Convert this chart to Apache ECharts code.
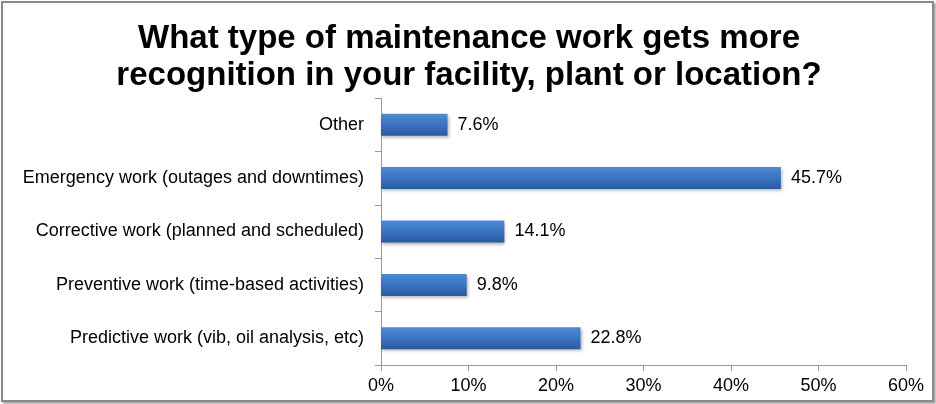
<!DOCTYPE html>
<html><head><meta charset="utf-8">
<script src="https://cdn.jsdelivr.net/npm/echarts@6/dist/echarts.min.js"></script>
<style>
html,body{margin:0;padding:0;background:#fff;}
#frame{position:absolute;left:1px;top:1px;width:929px;height:397px;border:2px solid #8a8a8a;box-shadow:2px 2px 2px rgba(0,0,0,0.35);background:#fff;}
#chart{position:absolute;left:0;top:0;width:936px;height:404px;}
</style></head>
<body>
<div id="frame"></div>
<div id="chart"></div>
<script>
var categories = [
  "Predictive work (vib, oil analysis, etc)",
  "Preventive work (time-based activities)",
  "Corrective work (planned and scheduled)",
  "Emergency work (outages and downtimes)",
  "Other"
];
var values = [22.8, 9.8, 14.1, 45.7, 7.6];
var titleLines = ["What type of maintenance work gets more", "recognition in your facility, plant or location?"];

var chart = echarts.init(document.getElementById('chart'), null, {renderer:'canvas'});
chart.setOption({
  backgroundColor: 'transparent',
  animation: false,
  title: {
    text: titleLines.join('\n'),
    left: 464, top: 15, textAlign: 'center',
    textStyle: {fontFamily: 'Liberation Sans', fontWeight: 'bold', fontSize: 33, color: '#000', lineHeight: 37}
  },
  grid: {left: 381, right: 30, top: 98, bottom: 39, containLabel: false},
  xAxis: {
    type: 'value', min: 0, max: 60, interval: 10,
    axisLabel: {formatter: '{value}%', fontFamily: 'Liberation Sans', fontSize: 18, color: '#000', margin: 12},
    axisLine: {show: true, lineStyle: {color: '#999', width: 1}},
    axisTick: {show: true, length: 6, lineStyle: {color: '#999'}},
    splitLine: {show: false}
  },
  yAxis: {
    type: 'category', data: categories,
    axisLabel: {fontFamily: 'Liberation Sans', fontSize: 18, color: '#000', margin: 17},
    axisLine: {show: true, lineStyle: {color: '#999', width: 1}},
    axisTick: {show: true, length: 6, lineStyle: {color: '#999'}}
  },
  series: [{
    type: 'bar', data: values, barWidth: 22,
    itemStyle: {
      color: new echarts.graphic.LinearGradient(0, 0, 0, 1, [
        {offset: 0, color: '#4f8ad4'},
        {offset: 0.5, color: '#3a74c2'},
        {offset: 1, color: '#2b5a9e'}
      ]),
      shadowColor: 'rgba(0,0,0,0.3)', shadowBlur: 3, shadowOffsetX: 1, shadowOffsetY: 2
    },
    label: {show: true, position: 'right', distance: 10, formatter: function(p){return p.value.toFixed(1) + '%';},
      fontFamily: 'Liberation Sans', fontSize: 18, color: '#000'}
  }]
});
</script>
</body></html>
